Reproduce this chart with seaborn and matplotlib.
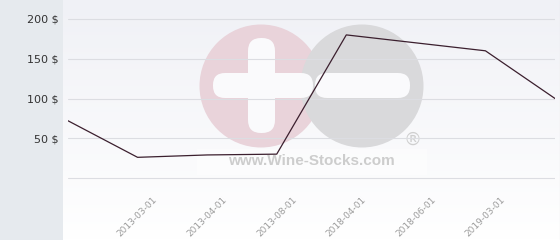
import numpy as np
import matplotlib
matplotlib.use("Agg")
import matplotlib.pyplot as plt
import seaborn as sns
from matplotlib.patches import Circle, FancyBboxPatch, Rectangle

# ---- data ----
prices = [72, 26, 29, 30, 180, 170, 160, 100]
tick_labels = ["2013-03-01", "2013-04-01", "2013-08-01",
               "2018-04-01", "2018-06-01", "2019-03-01"]
y_ticks = [0, 50, 100, 150, 200]
y_tick_labels = ["", "50 $", "100 $", "150 $", "200 $"]

sns.set_theme(style="white")
plt.rcParams["font.family"] = ["DejaVu Sans"]

W, H = 560, 240
fig = plt.figure(figsize=(5.6, 2.4), dpi=100)

# ---- background (pixel coordinates) ----
bg = fig.add_axes([0, 0, 1, 1], zorder=0)
bg.set_xlim(0, W)
bg.set_ylim(H, 0)
bg.axis("off")
bg.add_patch(Rectangle((0, 0), 63, H, color="#e6eaee", lw=0))
g = np.linspace(0, 1, 240)[:, None, None]
top = np.array([0xf0, 0xf1, 0xf6]) / 255.0
bot = np.array([1.0, 1.0, 1.0])
img = top * (1 - g) + bot * g
img = np.repeat(img, 2, axis=1)
bg.imshow(img, extent=(63, W, H, 0), aspect="auto", interpolation="bilinear", zorder=0)
bg.plot([559.5, 559.5], [0, H], color="#d3d3d3", lw=0.8, zorder=1)

# watermark
bg.add_patch(Rectangle((197, 149), 230, 26, color="white", alpha=0.45, lw=0, zorder=1))
bg.add_patch(Circle((261, 86), 61.5, color="#e9d3da", lw=0, zorder=2))
bg.add_patch(Circle((362, 86), 61.5, color="#d9d9db", lw=0, zorder=3))
bg.add_patch(FancyBboxPatch((248, 38), 27, 95, boxstyle="round,pad=0,rounding_size=13",
                            color="#fafafc", lw=0, zorder=4))
bg.add_patch(FancyBboxPatch((213, 73), 100, 25, boxstyle="round,pad=0,rounding_size=12",
                            color="#fafafc", lw=0, zorder=4))
bg.add_patch(FancyBboxPatch((315, 73), 95, 25, boxstyle="round,pad=0,rounding_size=12",
                            color="#fafafc", lw=0, zorder=4))
bg.text(311, 161, "www.Wine-Stocks.com", family=["Liberation Sans", "DejaVu Sans"],
        fontweight="bold", fontsize=11, color="#cdcdcd", ha="center", va="center", zorder=5)
bg.text(413, 140, "®", family=["DejaVu Sans"], fontsize=13, color="#cfcfcf",
        ha="center", va="center", zorder=5)

# ---- main chart ----
px_per_unit = 0.795
ax_bottom_px = 180
ax = fig.add_axes([68 / W, (H - ax_bottom_px) / H, 487 / W, ax_bottom_px / H], zorder=1)
ax.patch.set_alpha(0)
x = np.arange(len(prices))
sns.lineplot(x=x, y=prices, ax=ax, color="#3b1f2e", lw=0.9)
ax.set_xlim(0, len(prices) - 1)
ax.set_ylim(-(ax_bottom_px - 178) / px_per_unit, 178 / px_per_unit)
ax.set_yticks(y_ticks, y_tick_labels)
ax.set_xticks(np.arange(1, len(prices) - 1), tick_labels, rotation=45, ha="center")
ax.grid(axis="y", color="#dcdde2", lw=0.8)
ax.grid(axis="x", visible=False)
for s in ax.spines.values():
    s.set_visible(False)
ax.tick_params(axis="x", length=0, pad=10.8, labelsize=6.5, labelcolor="#9c9c9c")
ax.tick_params(axis="y", length=0, pad=6.5, labelsize=8, labelcolor="#333333")
ax.set_xlabel("")
ax.set_ylabel("")

fig.savefig("out.png", dpi=100)
